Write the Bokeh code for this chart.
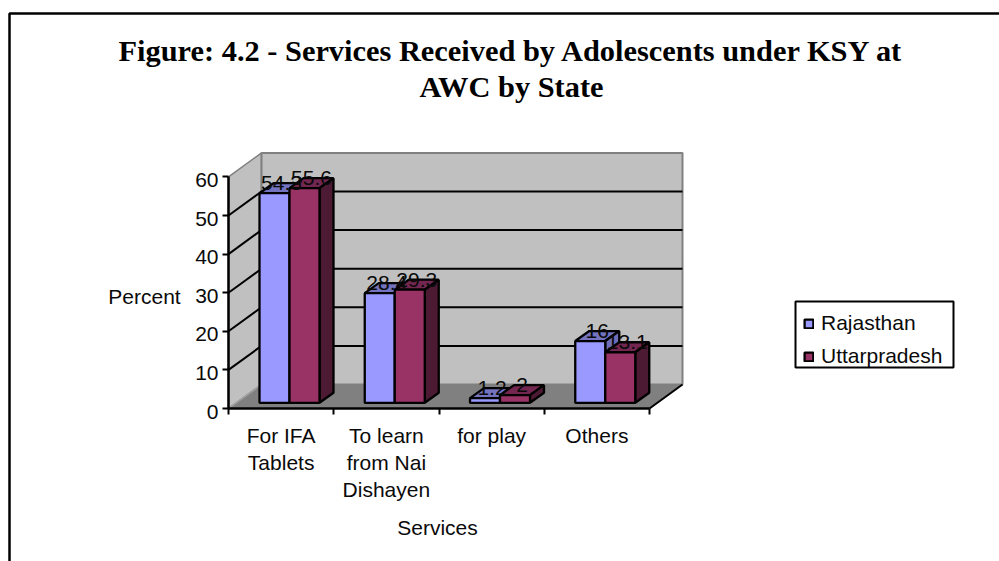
from bokeh.core.properties import value
from bokeh.embed import file_html
from bokeh.models import FixedTicker, Legend, LegendItem, LinearAxis, Range1d
from bokeh.plotting import figure
from bokeh.resources import INLINE

# Chart content
TITLE_LINES = ["Figure: 4.2 - Services Received by Adolescents under KSY at", "AWC by State"]
CATEGORIES = ["For IFA\nTablets", "To learn\nfrom Nai\nDishayen", "for play", "Others"]
SERIES_NAMES = ["Rajasthan", "Uttarpradesh"]
RAJASTHAN = [54.3, 28.4, 1.2, 16.0]
UTTARPRADESH = [55.6, 29.3, 2.0, 13.1]
RAJASTHAN_LABELS = ["54.3", "28.4", "1.2", "16"]
UTTARPRADESH_LABELS = ["55.6", "29.3", "2", "13.1"]
Y_TICKS = [0, 10, 20, 30, 40, 50, 60]
Y_TITLE = "Percent"
X_TITLE = "Services"

# Page geometry: the data origin sits at a fixed pixel and both scales are linear
W, H = 999, 561
OX, OY = 228, 408
PX_PER_CAT, PX_PER_PCT = 105.25, 3.86


def dx(px):
    return px / PX_PER_CAT


def dy(px):
    return px / PX_PER_PCT


def at_x(px):
    return dx(px - OX)


def at_y(py):
    return dy(OY - py)


WALL_DX, WALL_DY = dx(33), dy(24)
BAR_W = dx(30)
BAR_DX, BAR_DY = dx(14), dy(10)
BAR_START = dx(31)
BAR_BASE = dy(5.7)
N = len(CATEGORIES)
TOP = Y_TICKS[-1]

FONT = value("Liberation Sans")
FONT_SIZE = "21px"
TEXT_COLOR = "#0A0A0A"
EDGE = 2.3

p = figure(
    width=W, height=H, output_backend="svg", toolbar_location=None,
    x_range=Range1d(at_x(0), at_x(W)), y_range=Range1d(at_y(H), at_y(0)),
    x_axis_type=None, y_axis_type=None, min_border=0,
    outline_line_color=None, background_fill_color="white",
)
p.grid.visible = False

# Page frame: its top and left edges run off the page
p.line([at_x(9), at_x(9), at_x(W)], [at_y(H), at_y(13), at_y(13)], line_color="black", line_width=2.5)

# Chart walls and floor
p.patch([0, 0, WALL_DX, WALL_DX], [0, TOP, TOP + WALL_DY, WALL_DY],
        fill_color="#C0C0C0", line_color="#808080", line_width=1.5)
p.patch([WALL_DX, N + WALL_DX, N + WALL_DX, WALL_DX], [WALL_DY, WALL_DY, TOP + WALL_DY, TOP + WALL_DY],
        fill_color="#C0C0C0", line_color="#808080", line_width=2)
p.patch([0, N, N + WALL_DX, WALL_DX], [0, 0, WALL_DY, WALL_DY],
        fill_color="#808080", line_color=None)
p.line([0, WALL_DX], [0, WALL_DY], line_color="#A0A0A0", line_width=1.5)
p.line([N, N + WALL_DX], [0, WALL_DY], line_color="black", line_width=2)

# Gridlines on the left and back walls
grid = Y_TICKS[1:-1]
p.segment([0] * len(grid), grid, [WALL_DX] * len(grid), [g + WALL_DY for g in grid],
          line_color="black", line_width=2)
p.segment([WALL_DX] * len(grid), [g + WALL_DY for g in grid], [N + WALL_DX] * len(grid),
          [g + WALL_DY for g in grid], line_color="black", line_width=2)


def draw_series(values, slot, front, top, side):
    xs_front, ys_front, xs_top, ys_top, xs_side, ys_side = [], [], [], [], [], []
    for i, v in enumerate(values):
        x0 = i + BAR_START + slot * BAR_W
        x1 = x0 + BAR_W
        y0, y1 = BAR_BASE, BAR_BASE + v
        xs_front.append([x0, x1, x1, x0])
        ys_front.append([y0, y0, y1, y1])
        xs_top.append([x0, x1, x1 + BAR_DX, x0 + BAR_DX])
        ys_top.append([y1, y1, y1 + BAR_DY, y1 + BAR_DY])
        xs_side.append([x1, x1 + BAR_DX, x1 + BAR_DX, x1])
        ys_side.append([y0, y0 + BAR_DY, y1 + BAR_DY, y1])
    p.patches(xs_top, ys_top, fill_color=top, line_color="black", line_width=EDGE)
    p.patches(xs_side, ys_side, fill_color=side, line_color="black", line_width=EDGE)
    return p.patches(xs_front, ys_front, fill_color=front, line_color="black", line_width=EDGE)


# Bars of one category are drawn back to front, series by series
r_raj = draw_series(RAJASTHAN, 0, "#9999FF", "#7373BF", "#6E6EB8")
r_utt = draw_series(UTTARPRADESH, 1, "#993366", "#732650", "#4D1A33")

# Value labels above each bar
for values, labels, slot in ((RAJASTHAN, RAJASTHAN_LABELS, 0), (UTTARPRADESH, UTTARPRADESH_LABELS, 1)):
    xs = [i + BAR_START + (slot + 0.5) * BAR_W + BAR_DX / 2 for i in range(N)]
    ys = [BAR_BASE + v + dy(10) for v in values]
    p.text(xs, ys, text=labels, text_align="center", text_baseline="middle",
           text_font=FONT, text_font_size=FONT_SIZE, text_color=TEXT_COLOR)

# Axes sit on the front edges of the floor and the left wall
y_axis = LinearAxis(
    fixed_location=0, bounds=(0, TOP), ticker=FixedTicker(ticks=Y_TICKS),
    axis_line_color="black", axis_line_width=2.5,
    major_tick_line_color="black", major_tick_line_width=2, major_tick_in=0, major_tick_out=6,
    minor_tick_line_color=None, major_label_text_color=None,
)
p.add_layout(y_axis, "left")
x_axis = LinearAxis(
    fixed_location=0, bounds=(0, N), ticker=FixedTicker(ticks=list(range(N + 1))),
    axis_line_color="black", axis_line_width=2.5,
    major_tick_line_color="black", major_tick_line_width=2, major_tick_in=0, major_tick_out=6,
    minor_tick_line_color=None, major_label_text_color=None,
)
p.add_layout(x_axis, "below")

# Tick labels hang slightly below their ticks
p.text([at_x(218)] * len(Y_TICKS), [t - dy(3) for t in Y_TICKS], text=[str(t) for t in Y_TICKS],
       text_align="right", text_baseline="middle", text_font=FONT, text_font_size=FONT_SIZE,
       text_color=TEXT_COLOR)

# Category labels, one text line per row
LINE_STEP = dy(27)
for i, cat in enumerate(CATEGORIES):
    for j, line in enumerate(cat.split("\n")):
        p.text([i + 0.5], [at_y(435) - j * LINE_STEP], text=[line], text_align="center",
               text_baseline="middle", text_font=FONT, text_font_size=FONT_SIZE, text_color=TEXT_COLOR)

p.text([at_x(144)], [at_y(296)], text=[Y_TITLE], text_align="center", text_baseline="middle",
       text_font=FONT, text_font_size=FONT_SIZE, text_color=TEXT_COLOR)
p.text([at_x(437)], [at_y(527)], text=[X_TITLE], text_align="center", text_baseline="middle",
       text_font=FONT, text_font_size=FONT_SIZE, text_color=TEXT_COLOR)

for line, py in zip(TITLE_LINES, (50, 86)):
    p.text([at_x(511)], [at_y(py)], text=[line], text_align="center", text_baseline="middle",
           text_font=value("Liberation Serif"), text_font_style="bold", text_font_size="30.4px",
           text_color="black")

# Legend panel behind the transparent legend entries
p.quad(left=[at_x(795)], right=[at_x(953)], top=[at_y(301)], bottom=[at_y(367)],
       fill_color="white", line_color="black", line_width=2)
legend = Legend(
    items=[LegendItem(label=SERIES_NAMES[0], renderers=[r_raj]),
           LegendItem(label=SERIES_NAMES[1], renderers=[r_utt])],
    location=(803, H - 368), orientation="vertical",
    border_line_color=None, background_fill_alpha=0,
    glyph_width=11, glyph_height=11, label_text_font="Liberation Sans", label_text_font_size=FONT_SIZE,
    label_text_color=TEXT_COLOR, padding=0, spacing=9, margin=0, label_standoff=7,
)
p.add_layout(legend, "center")

open("out.html", "w").write(file_html(p, INLINE))
